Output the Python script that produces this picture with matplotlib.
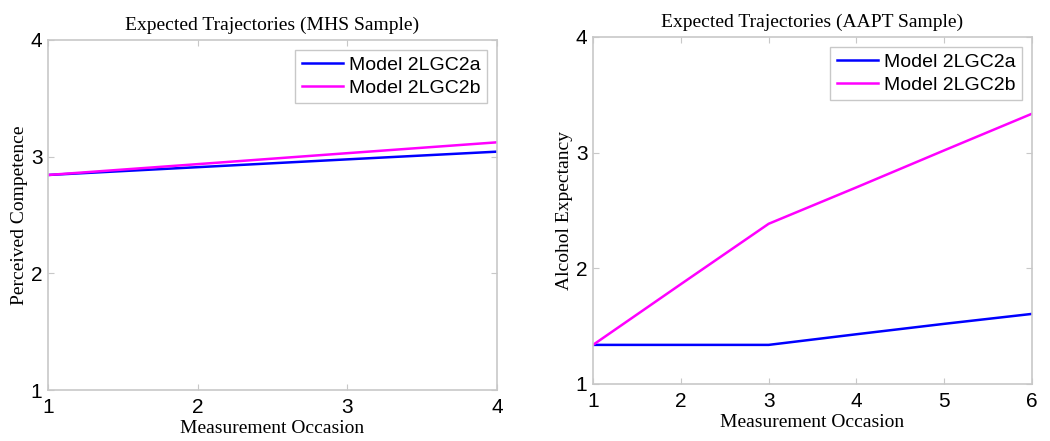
import numpy as np
import matplotlib
matplotlib.use("Agg")
import matplotlib.pyplot as plt

# data
occ_mhs = [1, 2, 3, 4]
mhs_2a = [2.843, 2.910, 2.977, 3.043]
mhs_2b = [2.843, 2.936, 3.030, 3.123]

occ_aapt = [1, 2, 3, 4, 5, 6]
aapt_2a = [1.338, 1.338, 1.338, 1.430, 1.520, 1.606]
aapt_2b = [1.338, 1.863, 2.385, 2.700, 3.020, 3.337]

labels = ["Model 2LGC2a", "Model 2LGC2b"]
colors = ["#0000ff", "#ff00ff"]

serif = "Liberation Serif"
sans = "Liberation Sans"
grey = "#c8c8c8"

fig = plt.figure(figsize=(10.5, 4.41), dpi=100)
ax1 = fig.add_axes([0.0457, 0.1156, 0.4276, 0.7937])
ax2 = fig.add_axes([0.5648, 0.1293, 0.4181, 0.7868])


def style(ax, x, title, ylabel):
    ax.set_xlim(x[0], x[-1])
    ax.set_ylim(1, 4)
    ax.set_xticks(x)
    ax.set_yticks([1, 2, 3, 4])
    for sp in ax.spines.values():
        sp.set_color(grey)
        sp.set_linewidth(1.2)
    ax.tick_params(direction="in", length=4, color=grey, labelsize=15, pad=4,
                   top=True, right=True)
    ax.tick_params(axis="x", pad=6)
    for t in ax.get_xticklabels() + ax.get_yticklabels():
        t.set_fontfamily(sans)
    ax.set_title(title, family=serif, fontsize=14, pad=7)
    ax.set_xlabel("Measurement Occasion", family=serif, fontsize=14, labelpad=2)
    ax.set_ylabel(ylabel, family=serif, fontsize=14, labelpad=2)
    leg = ax.legend(loc="upper right", prop={"family": sans, "size": 14},
                    fancybox=False, framealpha=1, handlelength=2.1,
                    borderaxespad=0.5, labelspacing=0.25, handletextpad=0.3,
                    borderpad=0.35)
    leg.get_frame().set_edgecolor(grey)
    leg.get_frame().set_linewidth(1.0)


ax1.plot(occ_mhs, mhs_2a, color=colors[0], lw=1.8, label=labels[0])
ax1.plot(occ_mhs, mhs_2b, color=colors[1], lw=1.8, label=labels[1])
style(ax1, occ_mhs, "Expected Trajectories (MHS Sample)", "Perceived Competence")

ax2.plot(occ_aapt, aapt_2a, color=colors[0], lw=1.8, label=labels[0])
ax2.plot(occ_aapt, aapt_2b, color=colors[1], lw=1.8, label=labels[1])
style(ax2, occ_aapt, "Expected Trajectories (AAPT Sample)", "Alcohol Expectancy")

fig.savefig("out.png", dpi=100)
